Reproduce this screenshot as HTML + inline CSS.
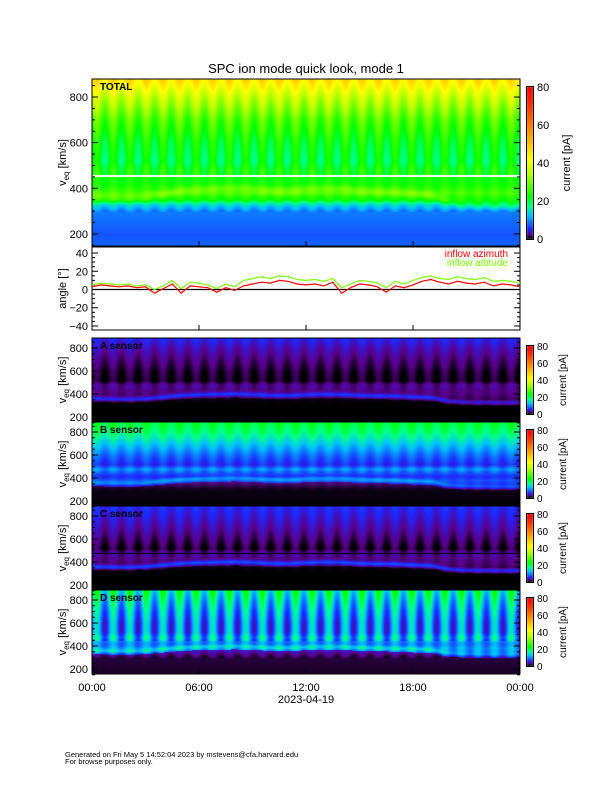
<!DOCTYPE html>
<html><head><meta charset="utf-8">
<style>
html,body{margin:0;padding:0;background:#fff;}
#wrap{position:relative;width:612px;height:792px;overflow:hidden;font-family:"Liberation Sans",sans-serif;}
canvas,svg{position:absolute;left:0;top:0;}
</style></head>
<body>
<div id="wrap">
<canvas id="cv" width="612" height="792"></canvas>
<svg id="sv" width="612" height="792"></svg>
</div>
<script>
// ---- data arrays ----
const hourTicks = [0, 6, 12, 18, 24];
const hourLabels = ["00:00", "06:00", "12:00", "18:00", "00:00"];
const speedTicks = [200, 400, 600, 800];
const angleTicks = [-40, -20, 0, 20, 40];
const cbarTicks = [0, 20, 40, 60, 80];
// bulk speed per hour (km/s)
const bulkSpeed = [362, 360, 358, 362, 378, 392, 398, 402, 405, 400, 392, 390, 398, 402, 400, 392, 388, 386, 378, 372, 340, 332, 330, 328, 330];
// angle samples every 30 min
const azimuth = [3, 5, 4, 3, 4, 2, 3, -4, 1, 6, -4, 4, 3, 2, -3, 2, -1, 4, 6, 8, 7, 10, 9, 6, 5, 6, 4, 8, -4, 2, 6, 5, 3, -3, 4, 2, 5, 9, 11, 8, 6, 9, 7, 6, 8, 4, 6, 5, 3];
const attitude = [5, 7, 6, 5, 6, 4, 5, 0, 4, 10, 1, 8, 7, 5, 1, 6, 3, 10, 12, 14, 12, 15, 14, 11, 10, 11, 9, 12, 2, 6, 10, 9, 7, 2, 9, 6, 10, 13, 15, 12, 11, 14, 12, 11, 13, 9, 10, 9, 7];
// vertical profiles: speed nodes and current (pA) nodes
const totalSpeeds = [140, 200, 300, 330, 350, 380, 420, 480, 520, 600, 700, 800, 880];
const totalCurrent = [8, 7, 9, 14, 22, 27, 23, 23, 20, 22, 27, 36, 46];
const aCurrent = [0, 0, 0, 0, 0.8, 1.6, 1.8, 2.2, 0.4, 0.8, 1.8, 3, 4.5];
const bCurrent = [0.3, 0.5, 1, 3, 5, 7, 5, 10, 5, 8, 13, 18, 20];
const cCurrent = [0, 0, 0, 0, 0.8, 1.6, 1.8, 2.4, 0.6, 1.6, 2.8, 4, 5];
const dCurrent = [2, 2, 3, 6, 9, 11, 9, 12, 9, 9, 11, 14, 17];

// ---- helpers ----
const X0 = 92, X1 = 520;
const xOf = h => X0 + (X1 - X0) * h / 24;
function interp(xs, ys, x) {
  if (x <= xs[0]) return ys[0];
  for (let i = 1; i < xs.length; i++) if (x <= xs[i]) { const f = (x - xs[i-1]) / (xs[i] - xs[i-1]); return ys[i-1] + f * (ys[i] - ys[i-1]); }
  return ys[ys.length - 1];
}
const cStops = [0, 2, 5, 12, 17, 22, 35, 42, 55, 70, 80];
const cCols = [[0,0,0],[90,0,140],[30,40,255],[0,190,255],[0,255,140],[0,255,0],[190,255,0],[255,255,0],[255,160,0],[255,50,0],[255,0,0]];
function cmap(v) {
  v = Math.max(0, Math.min(80, v));
  for (let i = 1; i < cStops.length; i++) if (v <= cStops[i]) { const f = (v - cStops[i-1]) / (cStops[i] - cStops[i-1]); return cCols[i-1].map((c, k) => Math.round(c + f * (cCols[i][k] - c))); }
  return cCols[cCols.length - 1];
}
const panels = [
  {name: "total", label: "TOTAL", y0: 79, y1: 246, vTop: 879, vBot: 147, prof: totalCurrent, stripe: 3.5, band: 4, line: 455, lineCol: [255,255,255], cb: [87, 239]},
  {name: "a-sensor", label: "A sensor", y0: 338, y1: 422, vTop: 887, vBot: 157, prof: aCurrent, stripe: 0.8, band: 4, line: null, cb: [346, 414]},
  {name: "b-sensor", label: "B sensor", y0: 422, y1: 506, vTop: 887, vBot: 157, prof: bCurrent, stripe: 1.5, band: 4, line: null, cb: [430, 498]},
  {name: "c-sensor", label: "C sensor", y0: 506, y1: 590, vTop: 887, vBot: 157, prof: cCurrent, stripe: 1, band: 5, line: 480, lineCol: [0,0,0], cb: [514, 582]},
  {name: "d-sensor", label: "D sensor", y0: 590, y1: 674, vTop: 887, vBot: 157, prof: dCurrent, stripe: 6, band: 4, line: null, cb: [598, 666]}
];
const cv = document.getElementById('cv'), ctx = cv.getContext('2d');
const img = ctx.createImageData(612, 792);
panels.forEach(p => {
  for (let y = p.y0; y < p.y1; y++) {
    const v = p.vTop + (p.vBot - p.vTop) * (y - p.y0) / (p.y1 - p.y0);
    for (let x = X0; x < X1; x++) {
      const h = (x - X0) / (X1 - X0) * 24;
      const hi = Math.min(24, Math.floor(h)), hf = h - hi;
      const bulk = bulkSpeed[hi] + (bulkSpeed[Math.min(24, hi + 1)] - bulkSpeed[hi]) * hf;
      let val = interp(totalSpeeds, p.prof, v);
      const st = Math.sin(2 * Math.PI * h / 0.93);
      if (v > 300) val += p.stripe * st * (v > 450 ? 1 : 0.4);
      const d = (v - bulk) / 18;
      val += p.band * Math.exp(-d * d);
      if (v < bulk - 30 && p.name !== "total") val *= 0.3;
      let c = cmap(val);
      if (p.line && Math.abs(v - p.line) < 5) c = p.lineCol;
      const idx = (y * 612 + x) * 4;
      img.data[idx] = c[0]; img.data[idx+1] = c[1]; img.data[idx+2] = c[2]; img.data[idx+3] = 255;
    }
  }
  for (let y = p.cb[0]; y < p.cb[1]; y++) {
    const c = cmap(80 * (p.cb[1] - 1 - y) / (p.cb[1] - p.cb[0] - 1));
    for (let x = 527; x < 533; x++) { const idx = (y * 612 + x) * 4; img.data[idx] = c[0]; img.data[idx+1] = c[1]; img.data[idx+2] = c[2]; img.data[idx+3] = 255; }
  }
});
ctx.putImageData(img, 0, 0);

// ---- SVG overlay ----
const sv = document.getElementById('sv');
const NS = "http://www.w3.org/2000/svg";
function el(tag, attrs, text) {
  const e = document.createElementNS(NS, tag);
  for (const k in attrs) e.setAttribute(k, attrs[k]);
  if (text !== undefined) e.textContent = text;
  sv.appendChild(e); return e;
}
const title = el('text', {x: 306, y: 73, 'text-anchor': 'middle', 'font-size': 13}, 'SPC ion mode quick look, mode 1');



panels.forEach(p => {
  const yOf = v => p.y0 + (p.y1 - p.y0) * (p.vTop - v) / (p.vTop - p.vBot);
  const fr = el('rect', {x: X0, y: p.y0, width: X1 - X0, height: p.y1 - p.y0, fill: 'none', stroke: '#000', 'stroke-width': 1});
  
  
  for (let v = 150; v <= 850; v += 50) {
    const len = v % 200 === 0 ? 6 : 3;
    el('line', {x1: X0, x2: X0 + len, y1: yOf(v), y2: yOf(v), stroke: '#000', 'stroke-width': 1});
    el('line', {x1: X1, x2: X1 - len, y1: yOf(v), y2: yOf(v), stroke: '#000', 'stroke-width': 1});
  }
  speedTicks.forEach(v => {
    const t = el('text', {x: X0 - 4, y: yOf(v) + 4, 'text-anchor': 'end', 'font-size': 11}, String(v));
    
    
  });
  const my = (p.y0 + p.y1) / 2;
  const yt = el('text', {x: 0, y: 0, transform: `translate(66,${my}) rotate(-90)`, 'text-anchor': 'middle', 'font-size': 11});
  yt.innerHTML = 'v<tspan font-size="8" dy="3">eq</tspan><tspan dy="-3"> [km/s]</tspan>';
  
  
  const lb = el('text', {x: 100, y: p.y0 + 11, 'font-size': 10, 'font-weight': 'bold', fill: '#000'}, p.label);
  
  
  const cbh = p.cb[1] - p.cb[0];
  const cf = el('rect', {x: 526.5, y: p.cb[0] - 0.5, width: 7, height: cbh + 1, fill: 'none', stroke: '#000'});
  
  
  cbarTicks.forEach(c => {
    const yy = p.cb[1] - cbh * c / 80;
    const t = el('text', {x: 537, y: yy + 4, 'font-size': p.name === 'total' ? 11 : 10}, String(c));
    
    
  });
  const ct = el('text', {x: 0, y: 0, transform: `translate(${p.name === 'total' ? 570 : 566},${(p.cb[0] + p.cb[1]) / 2}) rotate(-90)`, 'text-anchor': 'middle', 'font-size': p.name === 'total' ? 11 : 10}, 'current [pA]');
  
  
  hourTicks.forEach(h => {
    el('line', {x1: xOf(h), x2: xOf(h), y1: p.y1, y2: p.y1 - 5, stroke: '#000'});
  });
});

// angle panel
const AY0 = 247, AY1 = 330, AT = 46.6, AB = -44.4;
const ay = a => AY0 + (AY1 - AY0) * (AT - a) / (AT - AB);
const af = el('rect', {x: X0, y: AY0, width: X1 - X0, height: AY1 - AY0, fill: '#fff', stroke: '#000'});


for (let a = -40; a <= 40; a += 5) {
  const len = a % 20 === 0 ? 6 : 3;
  el('line', {x1: X0, x2: X0 + len, y1: ay(a), y2: ay(a), stroke: '#000'});
  el('line', {x1: X1, x2: X1 - len, y1: ay(a), y2: ay(a), stroke: '#000'});
}
angleTicks.forEach(a => {
  const t = el('text', {x: X0 - 4, y: ay(a) + 4, 'text-anchor': 'end', 'font-size': 11}, a < 0 ? '\u2212' + (-a) : String(a));
  
  
});
hourTicks.forEach(h => { el('line', {x1: xOf(h), x2: xOf(h), y1: AY1, y2: AY1 - 5, stroke: '#000'}); });
const zl = el('line', {x1: X0, x2: X1, y1: ay(0), y2: ay(0), stroke: '#000', 'stroke-width': 1.3});


const at = el('text', {x: 0, y: 0, transform: `translate(66,${(AY0 + AY1) / 2}) rotate(-90)`, 'text-anchor': 'middle', 'font-size': 11}, 'angle [\u00b0]');


function series(arr, col, name) {
  let d = '';
  arr.forEach((a, i) => { const h = i * 24 / (arr.length - 1); d += (i ? 'L' : 'M') + xOf(h).toFixed(1) + ' ' + ay(a).toFixed(1); });
  const p = el('path', {d: d, fill: 'none', stroke: col, 'stroke-width': 1.2});
  
  
}
series(attitude, '#7fff00', 'inflow-attitude-line');
series(azimuth, '#ff0000', 'inflow-azimuth-line');
const l1 = el('text', {x: 508, y: 257, 'text-anchor': 'end', 'font-size': 10, fill: '#ff0000'}, 'inflow azimuth');


const l2 = el('text', {x: 508, y: 266, 'text-anchor': 'end', 'font-size': 10, fill: '#7fff00'}, 'inflow attitude');



hourTicks.forEach((h, i) => {
  const t = el('text', {x: xOf(h), y: 691, 'text-anchor': 'middle', 'font-size': 11}, hourLabels[i]);
  
  
});
const dt = el('text', {x: 306, y: 703, 'text-anchor': 'middle', 'font-size': 11}, '2023-04-19');


const f1 = el('text', {x: 65, y: 757, 'font-size': 7.5}, 'Generated on Fri May  5 14:52:04 2023 by mstevens@cfa.harvard.edu');


f1.setAttribute('xml:space', 'preserve');
const f2 = el('text', {x: 65, y: 764, 'font-size': 7.5}, 'For browse purposes only.');


</script>
</body></html>
